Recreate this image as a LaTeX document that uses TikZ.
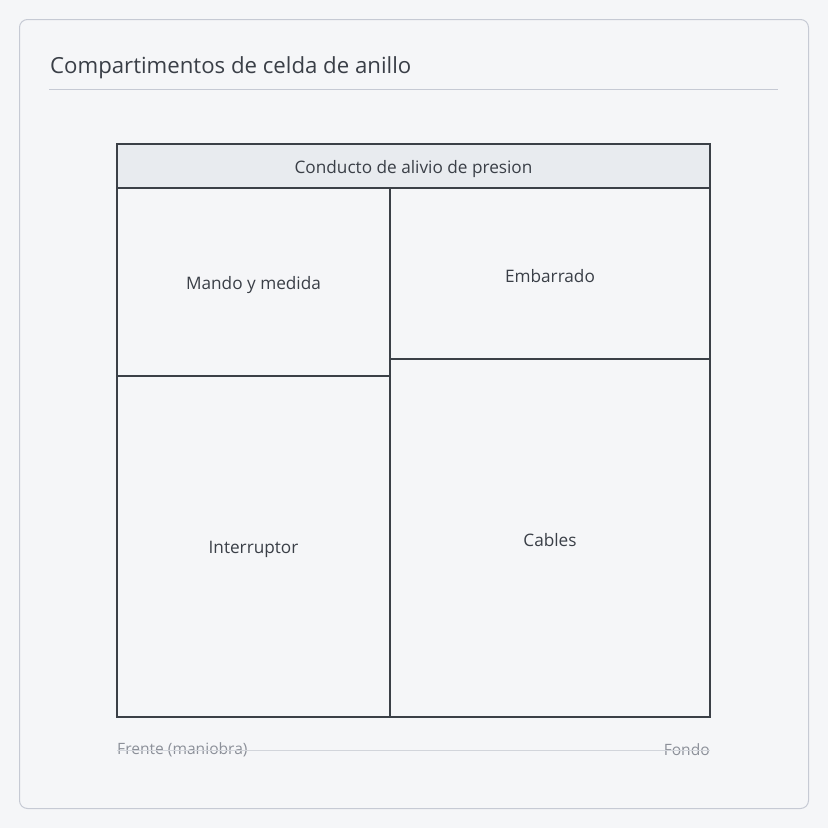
\documentclass[tikz,border=0pt]{standalone}
\usepackage{fontspec}
\setmainfont{Open Sans}
\usepackage{tikz}
\usetikzlibrary{positioning,backgrounds}

\definecolor{pagebg}{HTML}{F5F6F8}
\definecolor{cardline}{HTML}{C6CAD4}
\definecolor{ink}{HTML}{3A3F47}
\definecolor{frame}{HTML}{3B4047}
\definecolor{ductfill}{HTML}{E8EBEF}
\definecolor{muted}{HTML}{8C9099}
\definecolor{axisline}{HTML}{D2D5DB}

\begin{document}
\begin{tikzpicture}[x=1pt,y=-1pt,
		cardbox/.style={draw=cardline, line width=1pt, rounded corners=8pt, fill=pagebg},
		comp/.style={draw=frame, line width=1.4pt},
		label/.style={text=ink, font=\fontsize{17.2}{20}\selectfont},
		axislabel/.style={text=muted, font=\fontsize{15.6}{18}\selectfont, inner sep=0pt}]
		\fill[pagebg] (0,0) rectangle (828,828);
		\useasboundingbox (0,0) rectangle (828,828);
		\draw[cardbox] (19.5,19.5) rectangle (808.5,808.5);
		\node[anchor=base west, inner sep=0pt, text=ink, font=\fontsize{22.2}{26}\selectfont] (title) at (50,73.5) {Compartimentos de celda de anillo};
		\draw[cardline] (49,89) -- (778,89);
		% compartimentos
		\draw[comp, fill=ductfill] (117,144) rectangle (710,188);
		\draw[comp] (117,188) rectangle (390,376);
		\draw[comp] (117,376) rectangle (390,717);
		\draw[comp] (390,188) rectangle (710,359);
		\draw[comp] (390,359) rectangle (710,717);
		\draw[frame, line width=2pt] (117,144) rectangle (710,717);
		\node[label] (duct) at (413.5,169) {Conducto de alivio de presion};
		\node[label] (mando) at (253.5,285) {Mando y medida};
		\node[label] (embarrado) at (550,276) {Embarrado};
		\node[label] (interruptor) at (253.5,549) {Interruptor};
		\node[label] (cables) at (550,540) {Cables};
		% eje frente-fondo
		\node[axislabel, anchor=west] (frente) at (117,750) {Frente (maniobra)};
		\node[axislabel, anchor=east] (fondo) at (710,750) {Fondo};
		\draw[axisline, line width=1pt] (frente.west) -- (fondo.east);
\end{tikzpicture}
\end{document}
